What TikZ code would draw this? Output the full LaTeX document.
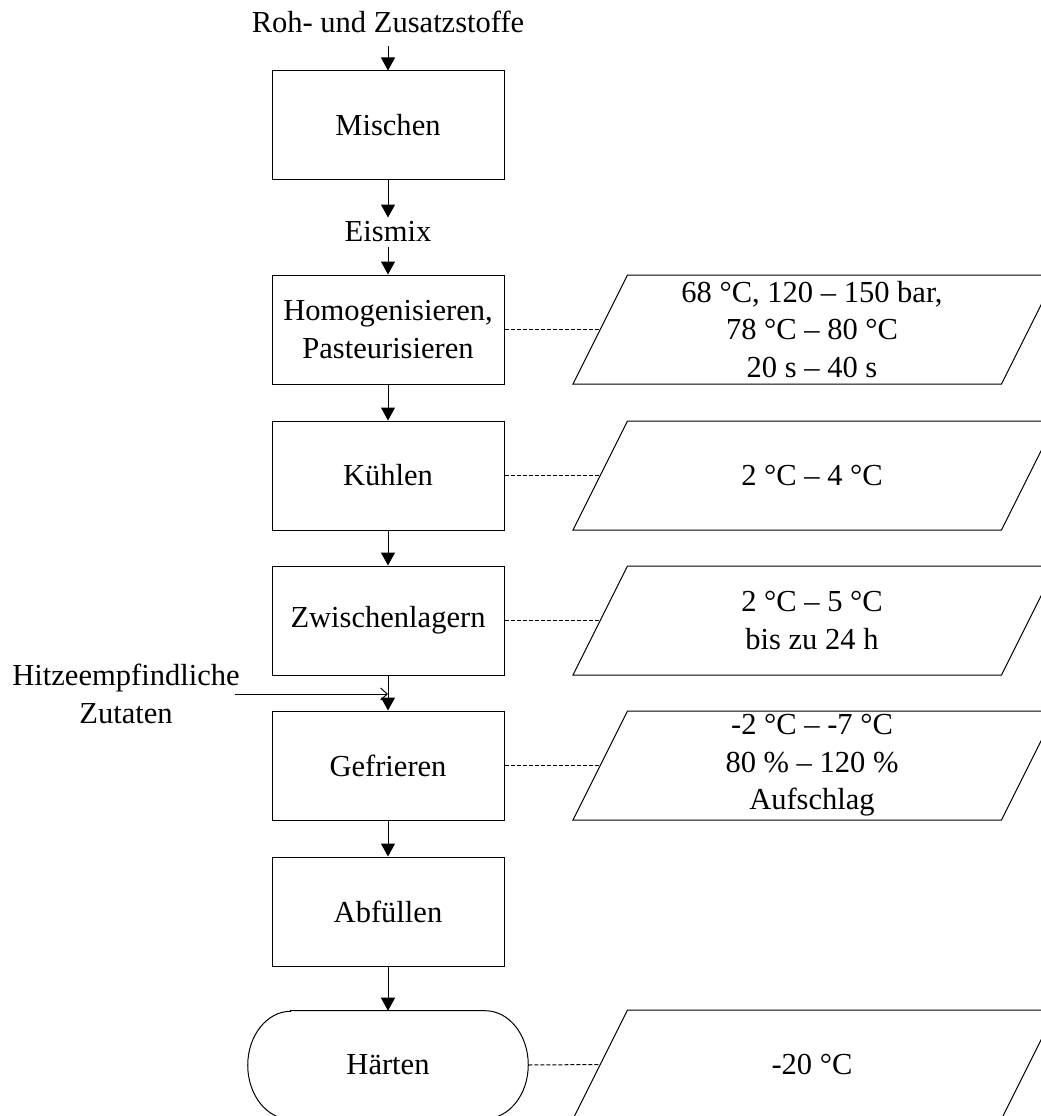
\documentclass[tikz,border=0pt]{standalone}
\usepackage{fontspec}
\setmainfont{Liberation Serif}
\usetikzlibrary{arrows.meta}
\newcommand\paral[3]{%
  \node (#1) at (812,#2) {#3};
  \draw[para] (573,#2+54.5) -- (627.5,#2-54.5) -- (1056,#2-54.5) -- (1001.5,#2+54.5) -- cycle;
  \coordinate (#1w) at (600,#2);
}
\begin{document}
\begin{tikzpicture}[x=0.75pt,y=-0.75pt,
  every node/.style={font=\fontsize{22.9pt}{28.2pt}\selectfont, inner sep=0pt, align=center},
  proc/.style={draw, line width=0.75pt, minimum width=174pt, minimum height=81.75pt},
  arr/.style={line width=0.75pt, -{Triangle[length=9.75pt,width=10.5pt]}},
  link/.style={line width=0.75pt, dash pattern=on 3pt off 1.5pt},
  para/.style={line width=0.75pt},
  inarr/.style={line width=0.75pt, -{Straight Barb[length=5pt,width=9pt]}}
]
\useasboundingbox (0,0) rectangle (1041,1116);
\clip (0,0) rectangle (1041,1116);

% main column
\node[anchor=base] (roh) at (388,33) {Roh- und Zusatzstoffe};
\node[proc] (misch) at (388,125.5) {Mischen};
\node[anchor=base, inner ysep=3pt] (eis) at (388,242) {Eismix};
\node[proc] (homog) at (388,329.5) {Homogenisieren,\\Pasteurisieren};
\node[proc] (kuehl) at (388,475.5) {Kühlen};
\node[proc] (zw) at (388,620.5) {Zwischenlagern};
\node[proc] (gef) at (388,765.5) {Gefrieren};
\node[proc] (abf) at (388,911.5) {Abfüllen};
\node[minimum width=210pt, minimum height=81pt] (haert) at (388,1065) {Härten};
\draw[para] ([xshift=32.25pt]haert.north west) -- ([xshift=-32.25pt]haert.north east)
  arc[start angle=90, end angle=-90, x radius=32.25pt, y radius=40.5pt]
  -- ([xshift=32.25pt]haert.south west)
  arc[start angle=270, end angle=90, x radius=32.25pt, y radius=40.5pt] -- cycle;

% side input
\node (hitze) at (126,694) {Hitzeempfindliche\\Zutaten};

% parameter parallelograms
\paral{p1}{329.5}{68 °C, 120 – 150 bar,\\78 °C – 80 °C\\20 s – 40 s}
\paral{p2}{475.5}{2 °C – 4 °C}
\paral{p3}{620.5}{2 °C – 5 °C\\bis zu 24 h}
\paral{p4}{765.5}{-2 °C – -7 °C\\80 \% – 120 \%\\Aufschlag}
\paral{p5}{1064.5}{-20 °C}

% flow arrows
\draw[arr] ([yshift=-10pt]roh.base) -- (misch);
\draw[arr] (misch) -- (eis);
\draw[arr] (eis) -- (homog);
\draw[arr] (homog) -- (kuehl);
\draw[arr] (kuehl) -- (zw);
\draw[arr] (zw) -- (gef);
\draw[arr] (gef) -- (abf);
\draw[arr] (abf) -- (haert);
\draw[inarr] ([xshift=-4pt]hitze.east) -- (hitze.east -| zw.south);

% dashed links
\draw[link] (homog.east) -- (p1w);
\draw[link] (kuehl.east) -- (p2w);
\draw[link] (zw.east) -- (p3w);
\draw[link] (gef.east) -- (p4w);
\draw[link] (haert.east) -- (p5w);
\end{tikzpicture}
\end{document}
